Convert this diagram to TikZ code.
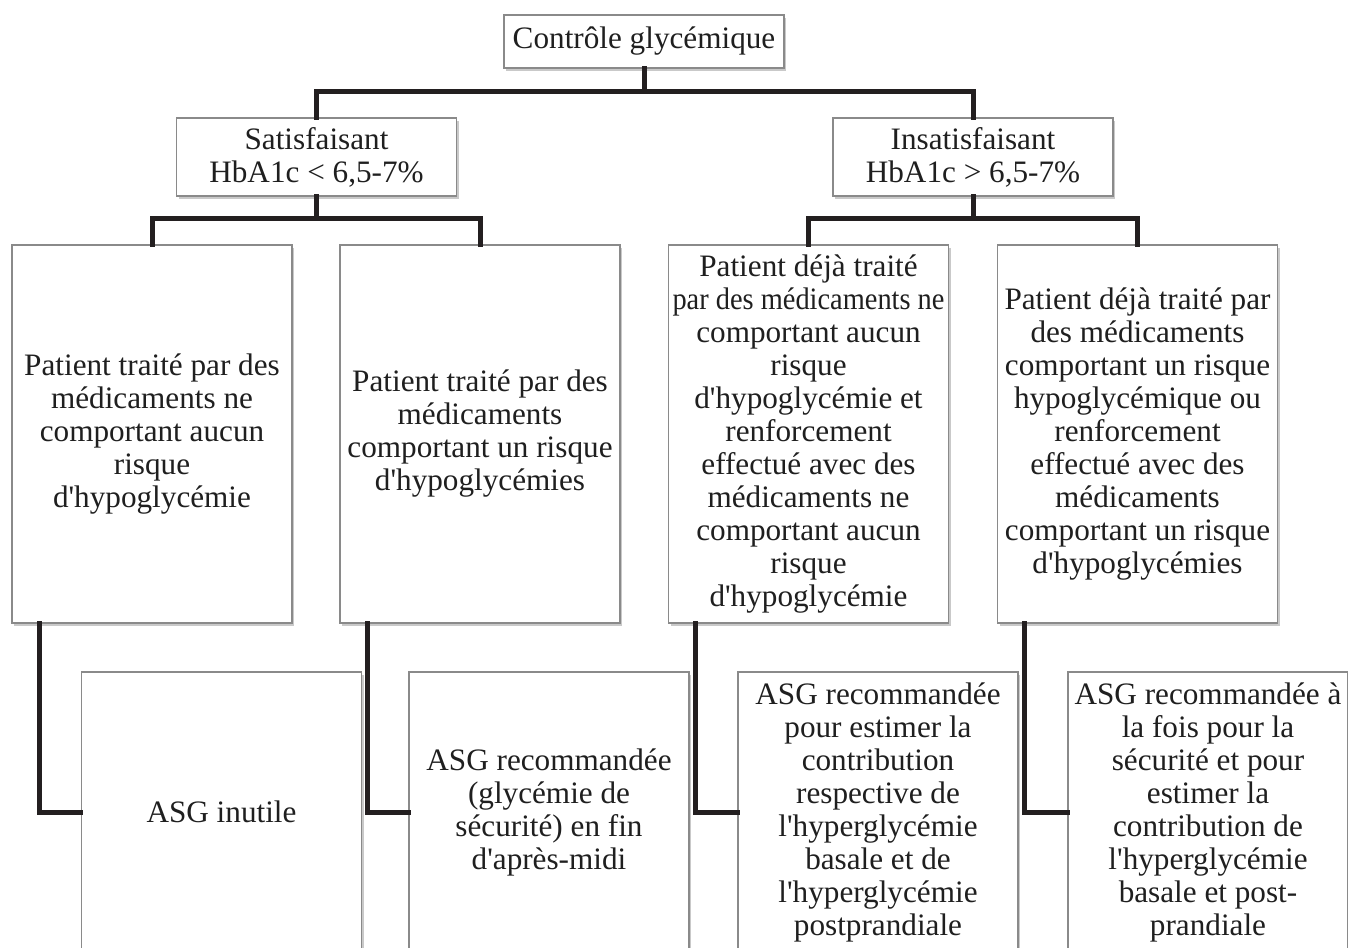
\documentclass[tikz,border=0pt]{standalone}
\usepackage{fontspec}
\usepackage{graphicx}
\setmainfont{Liberation Serif}[Ligatures=TeXOff]
\usetikzlibrary{shadows}
\definecolor{conn}{HTML}{231F20}
\definecolor{boxline}{HTML}{8A8A8A}
\newcommand{\fitline}[1]{\makebox[138pt][c]{\scalebox{0.91}[1]{#1}}}
\begin{document}
\begin{tikzpicture}[x=0.5pt,y=-0.5pt,
  box/.style={draw=boxline, line width=0.6pt, fill=white, align=center,
    inner xsep=0.5pt, inner ysep=0pt, minimum width=140pt,
    font=\fontsize{15.6}{16.5}\selectfont, text=black!88,
    drop shadow={shadow xshift=1.2pt, shadow yshift=-1.5pt, opacity=0.35, fill=black!60}},
  conn/.style={draw=conn, line width=2.5pt, line cap=rect}]
\useasboundingbox (0,0) rectangle (1348,947);
\clip (0,0) rectangle (1348,947);
\fill[white] (0,0) rectangle (1348,947);

\node[box, minimum height=26.5pt] (root) at (644,41.5) {Contrôle glycémique};
\node[box, minimum height=39pt] (sat) at (316.5,157) {Satisfaisant\\HbA1c < 6,5-7\%};
\node[box, minimum height=39pt] (ins) at (973,157) {Insatisfaisant\\HbA1c > 6,5-7\%};

\node[box, minimum height=189pt] (a) at (152,434) {Patient traité par des\\médicaments ne\\comportant aucun\\risque\\d'hypoglycémie};
\node[box, minimum height=189pt] (b) at (480,434) {Patient traité par des\\médicaments\\comportant un risque\\d'hypoglycémies};
\node[box, minimum height=189pt] (c) at (808.5,434) {Patient déjà traité\\\fitline{par des médicaments ne}\\comportant aucun\\risque\\d'hypoglycémie et\\renforcement\\effectué avec des\\médicaments ne\\comportant aucun\\risque\\d'hypoglycémie};
\node[box, minimum height=189pt] (d) at (1137.5,434) {Patient déjà traité par\\des médicaments\\comportant un risque\\hypoglycémique ou\\renforcement\\effectué avec des\\médicaments\\comportant un risque\\d'hypoglycémies};

\node[box, minimum height=140pt] (a3) at (221.5,812) {ASG inutile};
\node[box, minimum height=140pt] (b3) at (549,812) {ASG recommandée\\(glycémie de\\sécurité) en fin\\d'après-midi};
\node[box, minimum height=140pt] (c3) at (878,812) {ASG recommandée\\pour estimer la\\contribution\\respective de\\l'hyperglycémie\\basale et de\\l'hyperglycémie\\postprandiale};
\node[box, minimum height=140pt] (d3) at (1208,812) {ASG recommandée à\\la fois pour la\\sécurité et pour\\estimer la\\contribution de\\l'hyperglycémie\\basale et post-\\prandiale};

\coordinate (j0) at (644,92);
\coordinate (j1) at (316.5,218);
\coordinate (j2) at (973,218);

\draw[conn] (root.south) -- (j0);
\draw[conn] (sat.north) |- (j0) -| (ins.north);
\draw[conn] (sat.south) -- (j1);
\draw[conn] (a.north) |- (j1) -| (b.north);
\draw[conn] (ins.south) -- (j2);
\draw[conn] (c.north) |- (j2) -| (d.north);

\draw[conn] ([xshift=14pt]a.south west) |- (a3.west);
\draw[conn] ([xshift=14pt]b.south west) |- (b3.west);
\draw[conn] ([xshift=14pt]c.south west) |- (c3.west);
\draw[conn] ([xshift=14pt]d.south west) |- (d3.west);
\end{tikzpicture}
\end{document}
